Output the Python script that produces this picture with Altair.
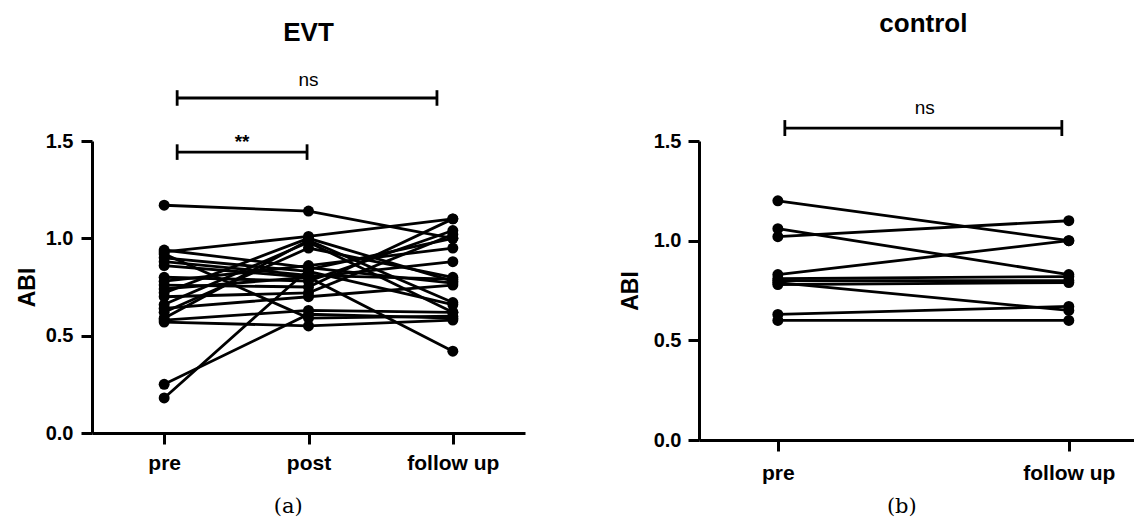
import altair as alt
import pandas as pd

FONT = "Liberation Sans"

# ---------------- data ----------------
evt_stages = ["pre", "post", "follow up"]
evt_pre    = [1.17, 0.93, 0.92, 0.94, 0.90, 0.88, 0.86, 0.80, 0.78, 0.76, 0.74,
              0.72, 0.70, 0.66, 0.64, 0.62, 0.59, 0.58, 0.57, 0.25, 0.18]
evt_post   = [1.14, 1.01, 0.59, 0.85, 0.83, 0.81, 0.80, 0.78, 0.86, 0.75, 0.80,
              1.00, 0.72, 0.98, 0.70, 0.95, 0.99, 0.63, 0.55, 0.61, 0.84]
evt_follow = [1.00, 1.10, 0.60, 0.77, 0.66, 0.79, 0.88, 1.04, 0.95, 1.10, 0.42,
              0.78, 1.02, 0.62, 0.76, 0.80, 0.67, 0.62, 0.58, 0.59, 1.00]

ctrl_stages = ["pre", "follow up"]
ctrl_pre    = [1.20, 1.06, 1.02, 0.83, 0.81, 0.80, 0.79, 0.78, 0.63, 0.60]
ctrl_follow = [1.00, 0.83, 1.10, 1.00, 0.82, 0.80, 0.65, 0.79, 0.67, 0.60]

# significance brackets: (x start, x end, y, label, label x, label y)
evt_brackets = [
    (0.09, 1.89, 1.721, "ns", 1.0, 1.782),
    (0.09, 0.99, 1.443, "**", 0.54, 1.466),
]
ctrl_brackets = [
    (0.024, 0.976, 1.565, "ns", 0.505, 1.636),
]


def long_df(series):
    rows = []
    for s, vals in enumerate(zip(*series)):
        for i, v in enumerate(vals):
            rows.append({"subject": s, "stage": i, "abi": v})
    return pd.DataFrame(rows)


def panel(df, stages, xdom, width, height, brackets, cap_h, title, title_x, title_y,
          caption, caption_x, caption_y, x_label_pad, y_label_pad, y_title_pad):
    xs = alt.Scale(domain=xdom, nice=False, zero=False)
    ys = alt.Scale(domain=[0, 1.5], nice=False, zero=False)
    label_list = "[" + ",".join("'%s'" % s for s in stages) + "]"
    xaxis = alt.Axis(values=list(range(len(stages))), labelExpr=label_list + "[datum.value]",
                     title=None, grid=False, labelPadding=x_label_pad)
    yaxis = alt.Axis(values=[0, 0.5, 1.0, 1.5], format=".1f", title="ABI", grid=False,
                     labelPadding=y_label_pad, titlePadding=y_title_pad)

    def X(field):
        return alt.X(field, type="quantitative", scale=xs, axis=xaxis)

    def Y(field):
        return alt.Y(field, type="quantitative", scale=ys, axis=yaxis)

    base = alt.Chart(df)
    lines = base.mark_line(color="black", strokeWidth=2.8).encode(
        x=X("stage"), y=Y("abi"), detail="subject:N")
    points = base.mark_circle(color="black", size=120, opacity=1).encode(
        x=X("stage"), y=Y("abi"))

    bdf = pd.DataFrame([{"x1": b[0], "x2": b[1], "y": b[2], "lo": b[2] - cap_h,
                         "hi": b[2] + cap_h, "text": b[3], "tx": b[4], "ty": b[5]}
                        for b in brackets])
    bar = alt.Chart(bdf).mark_rule(color="black", strokeWidth=2.8).encode(
        x=X("x1"), x2="x2", y=Y("y"))
    capl = alt.Chart(bdf).mark_rule(color="black", strokeWidth=2.8).encode(
        x=X("x1"), y=Y("lo"), y2="hi")
    capr = alt.Chart(bdf).mark_rule(color="black", strokeWidth=2.8).encode(
        x=X("x2"), y=Y("lo"), y2="hi")
    ns_df = bdf[bdf["text"] == "ns"]
    st_df = bdf[bdf["text"] != "ns"]
    layers = [lines, points, bar, capl, capr]
    if len(ns_df):
        layers.append(alt.Chart(ns_df).mark_text(font=FONT, fontSize=19, color="black",
                                                 baseline="alphabetic", align="center").encode(
            x=X("tx"), y=Y("ty"), text="text:N"))
    if len(st_df):
        layers.append(alt.Chart(st_df).mark_text(font=FONT, fontSize=19, fontWeight="bold",
                                                 color="black", baseline="alphabetic",
                                                 align="center").encode(
            x=X("tx"), y=Y("ty"), text="text:N"))
    tdf = pd.DataFrame([{"x": title_x, "y": title_y, "t": title}])
    layers.append(alt.Chart(tdf).mark_text(font=FONT, fontSize=26, fontWeight="bold",
                                           color="black", baseline="alphabetic",
                                           align="center").encode(
        x=X("x"), y=Y("y"), text="t:N"))
    cdf = pd.DataFrame([{"x": caption_x, "y": caption_y, "t": caption}])
    layers.append(alt.Chart(cdf).mark_text(font="DejaVu Serif", fontSize=21, color="black",
                                           baseline="alphabetic", align="center").encode(
        x=X("x"), y=Y("y"), text="t:N"))
    return alt.layer(*layers).properties(width=width, height=height)


left = panel(long_df([evt_pre, evt_post, evt_follow]), evt_stages, [-0.5, 2.5], 433, 292,
             evt_brackets, 0.04, "EVT", 1.0, 2.013, "(a)", 0.86, -0.41,
             x_label_pad=8, y_label_pad=8, y_title_pad=6)
right = panel(long_df([ctrl_pre, ctrl_follow]), ctrl_stages, [-0.271, 1.224], 435, 299,
              ctrl_brackets, 0.04, "control", 0.5, 2.047, "(b)", 0.426, -0.366,
              x_label_pad=11, y_label_pad=7, y_title_pad=11)

chart = alt.hconcat(left, right, spacing=94).properties(
    padding={"left": 16, "top": 10, "right": 0, "bottom": 0},
    background="white",
).configure_view(stroke=None).configure_axis(
    domainColor="black", domainWidth=3, tickColor="black", tickWidth=3, tickSize=11,
    labelFont=FONT, labelFontSize=20, labelFontWeight="bold", labelColor="black",
    titleFont=FONT, titleFontSize=23, titleFontWeight="bold", titleColor="black",
).configure_axisX(labelFontSize=21)

chart.save("out.html", embed_options={"renderer": "svg", "actions": False})
